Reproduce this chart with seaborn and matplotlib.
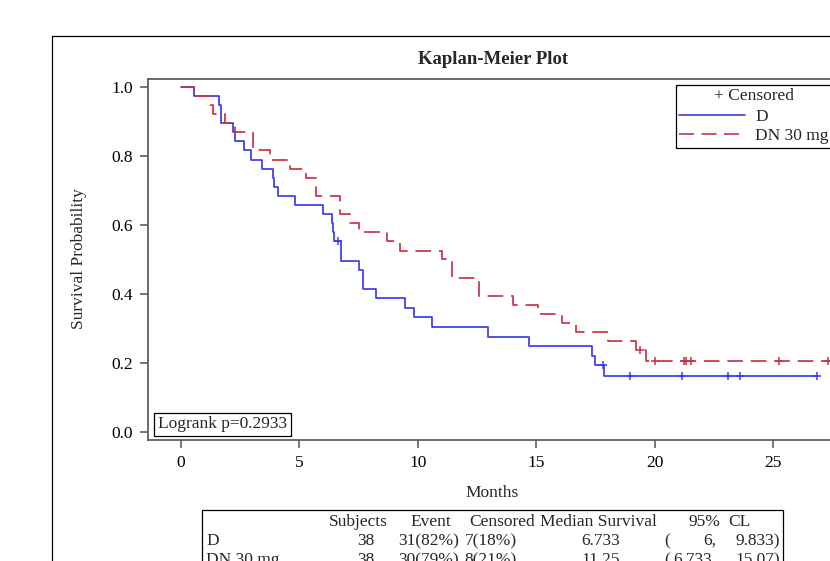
import matplotlib
matplotlib.use("Agg")
import matplotlib.pyplot as plt
import seaborn as sns
from matplotlib.lines import Line2D
from matplotlib.patches import Rectangle

# ---------------- data ----------------
groups = ["D", "DN 30 mg"]

d_time = [0, 0.56, 1.62, 1.69, 2.21, 2.29, 2.66, 2.95, 3.42, 3.88, 3.94, 4.08,
          4.80, 6.00, 6.36, 6.40, 6.47, 6.74, 7.50, 7.69, 8.23, 9.45, 9.83,
          10.62, 12.95, 14.70, 17.36, 17.50, 17.85, 26.85]
d_surv = [1.0, 0.974, 0.947, 0.895, 0.868, 0.842, 0.816, 0.789, 0.763, 0.737,
          0.711, 0.684, 0.658, 0.632, 0.605, 0.579, 0.553, 0.497, 0.470, 0.415,
          0.387, 0.359, 0.332, 0.304, 0.276, 0.249, 0.221, 0.194, 0.161, 0.161]
d_cens_time = [6.63, 17.82, 18.94, 21.15, 23.10, 23.59, 26.85]
d_cens_surv = [0.553, 0.194, 0.161, 0.161, 0.161, 0.161, 0.161]

dn_time = [0, 0.56, 1.22, 1.34, 1.86, 2.28, 3.05, 3.76, 4.60, 5.30, 5.72, 6.70,
           7.13, 7.50, 8.70, 9.24, 11.04, 11.46, 12.59, 14.02, 15.07, 16.10,
           16.70, 18.03, 19.20, 19.62, 28.80]
dn_surv = [1.0, 0.974, 0.947, 0.921, 0.895, 0.868, 0.816, 0.789, 0.763, 0.737,
           0.684, 0.632, 0.605, 0.579, 0.553, 0.526, 0.500, 0.447, 0.395, 0.368,
           0.342, 0.316, 0.289, 0.263, 0.237, 0.207, 0.207]
dn_cens_time = [19.37, 20.00, 21.22, 21.32, 21.55, 25.27, 27.30, 28.80]
dn_cens_surv = [0.237, 0.207, 0.207, 0.207, 0.207, 0.207, 0.207, 0.207]

x_ticks = [0, 5, 10, 15, 20, 25]
y_ticks = [0.0, 0.2, 0.4, 0.6, 0.8, 1.0]

table_header = ["Subjects", "Event", "Censored", "Median Survival", "95%", "CL"]
tab_subjects = ["38", "38"]
tab_events = ["31(82%)", "30(79%)"]
tab_censored = ["7(18%)", "8(21%)"]
tab_median = ["6.733", "11.25"]
tab_cl_low = ["6,", "6.733,"]
tab_cl_high = ["9.833)", "15.07)"]
logrank_text = "Logrank p=0.2933"
title_text = "Kaplan-Meier Plot"

# ---------------- style ----------------
sns.set_style("ticks")
plt.rcParams["font.family"] = ["Liberation Serif", "DejaVu Serif"]

BLUE = "#3C3CEA"
RED = "#C83246"
GRAY = "#5f5f5f"
FS = 12.5
DASH = (0, (9, 4.5))

W, H = 830, 561
fig = plt.figure(figsize=(W / 100, H / 100), dpi=100)


def fx(px):
    return px / W


def fy(py):
    return 1 - py / H


# outer frame (cropped on right/bottom)
fig.add_artist(Line2D([fx(52), fx(52)], [fy(36), fy(700)], color="black",
                      lw=0.9, transform=fig.transFigure))
fig.add_artist(Line2D([fx(52), fx(1000)], [fy(36), fy(36)], color="black",
                      lw=0.9, transform=fig.transFigure))

ax = fig.add_axes([fx(148), fy(440), (860 - 148) / W, (440 - 79) / H])

sns.lineplot(x=d_time, y=d_surv, drawstyle="steps-post", color=BLUE, lw=1.25,
             estimator=None, sort=False, ax=ax, legend=False)
sns.lineplot(x=dn_time, y=dn_surv, drawstyle="steps-post", color=RED, lw=1.25,
             linestyle=DASH, estimator=None, sort=False, ax=ax, legend=False)
sns.scatterplot(x=d_cens_time, y=d_cens_surv, marker="+", s=40, color=BLUE,
                linewidth=1.1, ax=ax, legend=False, zorder=4)
sns.scatterplot(x=dn_cens_time, y=dn_cens_surv, marker="+", s=40, color=RED,
                linewidth=1.1, ax=ax, legend=False, zorder=4)

ax.set_xlim(-1.39, 28.67)
ax.set_ylim(-0.023, 1.023)
ax.set_xticks(x_ticks)
ax.set_yticks(y_ticks)
ax.set_yticklabels([f"{v:.1f}" for v in y_ticks])
ax.tick_params(direction="out", length=6, width=1.2, color=GRAY,
               labelsize=FS, labelcolor="black", pad=5)
for s in ax.spines.values():
    s.set_color(GRAY)
    s.set_linewidth(1.3)

ax.set_xlabel("Months", fontsize=FS)
ax.set_ylabel("Survival Probability", fontsize=FS)
ax.xaxis.set_label_coords(fx(492), fy(485), transform=fig.transFigure)
ax.yaxis.set_label_coords(fx(87), fy(259), transform=fig.transFigure)

# title
fig.text(fx(493), fy(60), title_text, ha="center", va="center",
         fontsize=13.5, fontweight="bold")

# logrank box
fig.text(fx(158), fy(424.5), logrank_text, ha="left", va="center", fontsize=FS,
         bbox=dict(boxstyle="square,pad=0.22", fc="white", ec="black", lw=0.9))

# legend
handles = [Line2D([], [], color=BLUE, lw=1.2),
           Line2D([], [], color=RED, lw=1.2, linestyle=DASH)]
leg = ax.legend(handles=handles, labels=groups, title="+ Censored",
                loc="upper left", bbox_to_anchor=(fx(676), fy(85)),
                bbox_transform=fig.transFigure, frameon=True, fancybox=False,
                edgecolor="black", framealpha=1, fontsize=FS,
                title_fontsize=FS, handlelength=3.8, handletextpad=0.55,
                borderpad=0.2, labelspacing=0.2, borderaxespad=0)
leg.get_frame().set_linewidth(0.9)
leg._legend_box.sep = 3

# statistics table
fig.add_artist(Rectangle((fx(202), fy(700)), fx(783) - fx(202), fy(510) - fy(700),
                         fill=False, ec="black", lw=0.9,
                         transform=fig.transFigure))
hdr_y = fy(522)
hdr_pos = [(388, "right"), (451, "right"), (535, "right"), (598, "center"),
           (720, "right"), (728, "left")]
for txt, (px, ha) in zip(table_header, hdr_pos):
    fig.text(fx(px), hdr_y, txt, ha=ha, va="center", fontsize=FS)

row_y = [541, 560]
for i, g in enumerate(groups):
    y = fy(row_y[i])
    fig.text(fx(206), y, g, ha="left", va="center", fontsize=FS)
    fig.text(fx(374), y, tab_subjects[i], ha="right", va="center", fontsize=FS)
    fig.text(fx(459), y, tab_events[i], ha="right", va="center", fontsize=FS)
    fig.text(fx(517), y, tab_censored[i], ha="right", va="center", fontsize=FS)
    fig.text(fx(620), y, tab_median[i], ha="right", va="center", fontsize=FS)
    fig.text(fx(664), y, "(", ha="left", va="center", fontsize=FS)
    fig.text(fx(716), y, tab_cl_low[i], ha="right", va="center", fontsize=FS)
    fig.text(fx(780), y, tab_cl_high[i], ha="right", va="center", fontsize=FS)

fig.savefig("out.png", dpi=100)
